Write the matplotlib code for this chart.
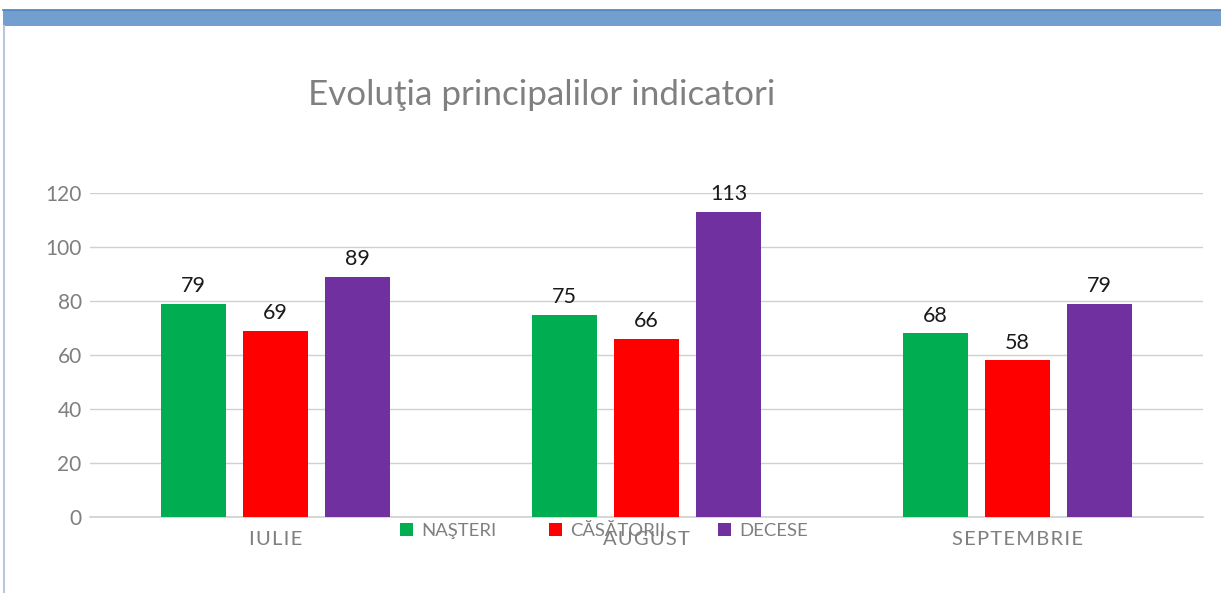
import numpy as np
import matplotlib.pyplot as plt
from matplotlib.patches import Rectangle
from matplotlib.lines import Line2D

plt.rcParams['font.family'] = ['Lato', 'DejaVu Sans']

months = ['IULIE', 'AUGUST', 'SEPTEMBRIE']
series = ['NAŞTERI', 'CĂSĂTORII', 'DECESE']
nasteri = [79, 75, 68]
casatorii = [69, 66, 58]
decese = [89, 113, 79]
colors = ['#00AD50', '#FF0000', '#7030A0']

fig = plt.figure(figsize=(12.21, 5.95), dpi=100)

# blue header strip and thin left border
fig.patches.append(Rectangle((3 / 1221, 1 - 26 / 595), 1, 16 / 595, transform=fig.transFigure,
                             facecolor='#729FCF', edgecolor='none'))
fig.lines.append(Line2D([3 / 1221, 1], [1 - 10 / 595, 1 - 10 / 595], transform=fig.transFigure,
                        color='#4F81BD', lw=1.2))
fig.lines.append(Line2D([3.5 / 1221, 3.5 / 1221], [1 - 26 / 595, 1 - 592 / 595], transform=fig.transFigure,
                        color='#B9C7D6', lw=1.5))

ax = fig.add_axes([90 / 1221, 1 - 517 / 595, (1203 - 90) / 1221, (517 - 193) / 595])

x = np.arange(len(months))
w = 0.175
step = 0.221
for i, (vals, name) in enumerate(zip([nasteri, casatorii, decese], series)):
    pos = x + (i - 1) * step
    ax.bar(pos, vals, width=w, color=colors[i], label=name, zorder=3)
    for p, v in zip(pos, vals):
        ax.text(p, v + 2.8, str(v), ha='center', va='bottom', fontsize=15.5, color='#1a1a1a')

ax.set_xlim(-0.5, 2.5)
ax.set_ylim(0, 120)
ax.set_yticks(range(0, 121, 20))
ax.yaxis.grid(True, color='#D0D0D0', lw=1, zorder=0)
ax.tick_params(axis='y', length=0, labelsize=15, labelcolor='#7F7F7F', pad=6)
ax.set_xticks(x)
ax.set_xticklabels(['\u200a'.join(m) for m in months])
ax.tick_params(axis='x', length=0, labelsize=14.5, labelcolor='#7F7F7F', pad=10)
for s in ['top', 'right', 'left']:
    ax.spines[s].set_visible(False)
ax.spines['bottom'].set_color('#D0D0D0')
ax.spines['bottom'].set_linewidth(1.2)

fig.text(542 / 1221, 1 - 95 / 595, 'Evoluţia principalilor indicatori', ha='center', va='center',
         fontsize=25.2, color='#808080')

ax.legend(loc='center', bbox_to_anchor=(604 / 1221, 1 - 531 / 595), bbox_transform=fig.transFigure,
          ncol=3, frameon=False, fontsize=13.3, labelcolor='#7F7F7F', handlelength=0.7, handleheight=0.7,
          handletextpad=0.45, columnspacing=2.86)

fig.savefig('out.png', dpi=100)
